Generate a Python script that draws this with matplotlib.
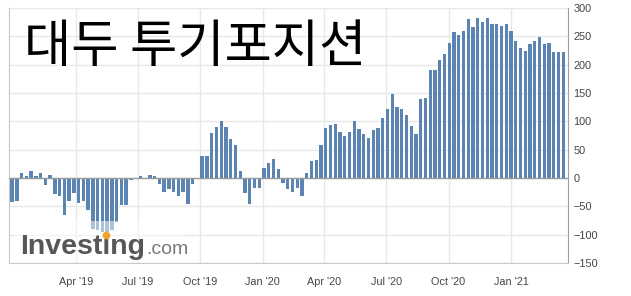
import matplotlib
matplotlib.use("Agg")
import matplotlib.pyplot as plt
import pandas as pd
from matplotlib.patches import Rectangle

# 대두 투기포지션 (CFTC soybeans speculative net positions, K contracts), weekly
first_date = "2018-12-28"
positions = [
    -43, -41, 8, 4, 13, 3, 9, -13, 6, -29,
    -32, -66, -41, -27, -44, -40, -57, -90, -92, -95,
    -95, -92, -78, -48, -48, -3, -1, 3, -2, 5,
    3, -11, -25, -19, -24, -31, -25, -46, -11, -1,
    38, 39, 80, 90, 101, 90, 68, 59, 13, -27,
    -45, -18, -18, 18, 27, 34, 16, -8, -20, -24,
    -17, -31, 9, 30, 32, 59, 89, 93, 96, 82,
    75, 82, 101, 87, 78, 71, 84, 89, 106, 122,
    149, 126, 121, 112, 91, 77, 139, 141, 191, 191,
    209, 218, 239, 257, 253, 259, 280, 266, 282, 276,
    282, 271, 271, 268, 271, 260, 241, 230, 225, 236,
    241, 248, 236, 239, 223, 223, 222,
]
tick_dates = ["2019-04-01", "2019-07-01", "2019-10-01", "2020-01-01",
              "2020-04-01", "2020-07-01", "2020-10-01", "2021-01-01"]
tick_labels = ["Apr '19", "Jul '19", "Oct '19", "Jan '20",
               "Apr '20", "Jul '20", "Oct '20", "Jan '21"]
y_ticks = [-150, -100, -50, 0, 50, 100, 150, 200, 250, 300]

W, H = 631, 296
dates = pd.date_range(first_date, periods=len(positions), freq="7D")

fig = plt.figure(figsize=(W / 100, H / 100), dpi=100)
ax = fig.add_axes([9 / W, 1 - 263 / H, (568 - 9) / W, (263 - 8) / H])

ax.bar(dates, positions, width=5, color="#5b84b3", linewidth=0, zorder=2)
ax.axhline(0, color="#9a9a9a", lw=1, zorder=3)

ax.set_ylim(-150, 300)
ax.set_xlim(pd.Timestamp("2018-12-23 08:00"), pd.Timestamp("2021-03-26"))
ax.yaxis.tick_right()
ax.set_yticks(y_ticks)
ax.set_xticks(pd.to_datetime(tick_dates))
ax.set_xticklabels(tick_labels)
ax.grid(color="#e8e8e8", lw=1)
ax.set_axisbelow(True)

ax.spines["top"].set_visible(False)
for side in ["left", "bottom"]:
    ax.spines[side].set_color("#c8c8c8")
ax.spines["right"].set_color("#a0a0a0")

for lab in ax.get_xticklabels() + ax.get_yticklabels():
    lab.set_family("Liberation Sans")
ax.tick_params(axis="x", length=0, labelsize=7.8, colors="#444444", pad=10)
ax.tick_params(axis="y", length=0, labelsize=7.8, colors="#444444", pad=4)

# title
fig.text(24 / W, 1 - 47 / H, "대두 투기포지션", fontsize=37,
         family=["Noto Sans CJK KR", "DejaVu Sans"], color="black",
         ha="left", va="center")

# watermark
fig.patches.append(Rectangle((15 / W, 1 - 262 / H), 170 / W, 41 / H,
                             transform=fig.transFigure, facecolor="white",
                             edgecolor="none", alpha=0.5, zorder=2))
base_y = 1 - 254 / H
wm = fig.text(20 / W, base_y, "Investing", fontsize=20.5, fontweight="bold",
              family="Liberation Sans", color="#575757", va="baseline", zorder=3)
fig.canvas.draw()
r = fig.canvas.get_renderer()
bb = wm.get_window_extent(r)
fig.text((bb.x1 + 1) / W, base_y, ".com", fontsize=14, family="Liberation Sans",
         color="#7a7a7a", va="baseline", zorder=3)
part = fig.text(20 / W, base_y, "Investi", fontsize=20.5, fontweight="bold",
                family="Liberation Sans", va="baseline")
pb = part.get_window_extent(r)
part.remove()
fig.lines.append(plt.Line2D([(pb.x1 - 4.5) / W], [base_y + 19.5 / H], marker="o",
                            markersize=4.5, color="#f0a030", linestyle="none",
                            transform=fig.transFigure, zorder=4))

fig.savefig("out.png", dpi=100)
